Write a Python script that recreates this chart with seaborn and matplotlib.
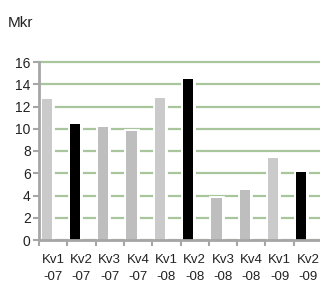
import seaborn as sns
import numpy as np
import pandas as pd
import matplotlib.pyplot as plt

# quarterly values, Mkr
quarters = ["Kv1\n-07", "Kv2\n-07", "Kv3\n-07", "Kv4\n-07", "Kv1\n-08",
            "Kv2\n-08", "Kv3\n-08", "Kv4\n-08", "Kv1\n-09", "Kv2\n-09"]
values = [12.7, 10.4, 10.15, 9.8, 12.8, 14.5, 3.75, 4.45, 7.35, 6.15]
bar_colors = ["#cacaca", "#000000", "#bdbebd", "#bdbebd", "#cacaca",
              "#000000", "#bdbebd", "#bdbebd", "#cacaca", "#000000"]
y_ticks = [0, 2, 4, 6, 8, 10, 12, 14, 16]

plt.rcParams['font.family'] = ['Liberation Sans', 'DejaVu Sans']

df = pd.DataFrame({"quarter": quarters, "value": values})
df["pos"] = np.arange(len(df)) - 0.23

fig = plt.figure(figsize=(3.2, 2.82), dpi=100)
ax = fig.add_axes([39 / 320, 42 / 282, 283 / 320, 178 / 282])
ax.set_axisbelow(True)

# white halo around bars, then the bars themselves
sns.barplot(data=df, x="pos", y="value", native_scale=True, width=0.36,
            color="white", edgecolor="white", linewidth=3.5, ax=ax)
sns.barplot(data=df, x="pos", y="value", hue="quarter", palette=bar_colors,
            native_scale=True, width=0.36, linewidth=0, legend=False, ax=ax)

ax.set_xlim(-0.5, len(df) - 0.5)
ax.set_ylim(0, 16)
ax.set_yticks(y_ticks)
ax.yaxis.grid(True, color="#a9c59b", linewidth=1.6)
ax.xaxis.grid(False)
for gl in ax.get_ygridlines():
    gl.set_clip_on(False)

ax.set_xticks(np.arange(len(df) + 1) - 0.5)
ax.set_xticklabels([])
ax.set_xticks(np.arange(len(df)), minor=True)
ax.set_xticklabels(quarters, minor=True, fontsize=9.5, linespacing=1.6,
                   color="#222222")
ax.tick_params(axis="x", which="major", length=4, width=1.5, color="#a6a6a6")
ax.tick_params(axis="x", which="minor", length=0, pad=10)
ax.tick_params(axis="y", length=4, width=1.5, color="#a6a6a6", labelsize=10,
               pad=2, labelcolor="#222222")

for side in ["top", "right"]:
    ax.spines[side].set_visible(False)
for side in ["left", "bottom"]:
    ax.spines[side].set_color("#a6a6a6")
    ax.spines[side].set_linewidth(2)
ax.set_xlabel("")
ax.set_ylabel("")

fig.text(8 / 320, 1 - 27 / 282, "Mkr", fontsize=11, color="#222222")

fig.savefig("out.png", dpi=100)
